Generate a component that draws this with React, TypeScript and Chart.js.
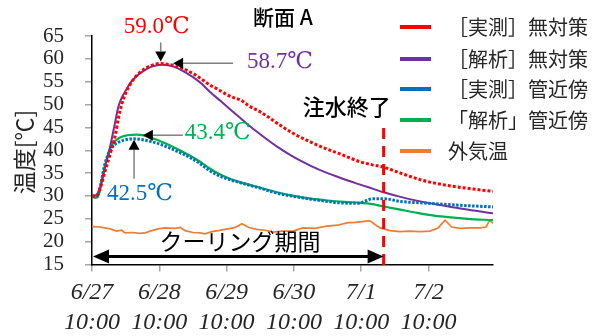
import React, { useEffect, useRef } from "react";
import { Chart, registerables } from "chart.js";

Chart.register(...registerables);

// Time axis: hours elapsed since 6/27 10:00
const TICK_HOURS = [0, 24, 48, 72, 96, 120];
const TICK_DATES = ["6/27", "6/28", "6/29", "6/30", "7/1", "7/2"];
const TICK_TIME = "10:00";
const X_MAX_H = 143;
const WATER_END_H = 104; // 7/1 18:00

const Y_MIN = 15;
const Y_MAX = 65;
const Y_STEP = 5;

const TITLE = "断面 A";
const Y_TITLE = "温度[℃]";
const WATER_END_LABEL = "注水終了";
const COOLING_LABEL = "クーリング期間";

const SERIES_LABELS = [
  "［実測］無対策",
  "［解析］無対策",
  "［実測］管近傍",
  "「解析」管近傍",
  "外気温",
];
const SERIES_COLORS = ["#FF0000", "#7030A0", "#0070C0", "#00B050", "#ED7D31"];

// Peak temperatures (value, hour)
const PEAK_MEAS_NO = 59.0;
const PEAK_MEAS_NO_H = 24.5;
const PEAK_SIM_NO = 58.7;
const PEAK_SIM_NO_H = 25;
const PEAK_MEAS_PIPE = 42.5;
const PEAK_MEAS_PIPE_H = 15;
const PEAK_SIM_PIPE = 43.4;
const PEAK_SIM_PIPE_H = 16;

// [実測] 無対策
const MEAS_NO_H = [0, 1.5, 2.85, 4.6, 6.4, 8.2, 9.4, 10.6, 11.8, 13.5, 15.3, 17, 19, 21, 23, PEAK_MEAS_NO_H, 26, 28, 30, 33, 36, 39, 42, 45, 48, 51, 53, 56, 60, 64, 67, 72, 78, 84, 88, 92, 96, 100, 104, 110, 118, 124, 130, 136, 143];
const MEAS_NO_V = [30.0, 30.0, 31.5, 35.3, 39.0, 43.0, 47.0, 50.0, 52.2, 54.3, 55.9, 57.0, 57.9, 58.5, 58.9, PEAK_MEAS_NO, 58.9, 58.7, 58.4, 57.7, 56.8, 55.6, 54.3, 53.3, 52.2, 51.4, 51.0, 49.7, 48.4, 46.8, 45.5, 43.6, 41.8, 40.2, 39.3, 38.3, 37.4, 36.8, 36.3, 35.0, 33.4, 32.6, 32.0, 31.5, 31.0];

// [解析] 無対策
const SIM_NO_H = [0, 1.5, 2.85, 4.6, 6.4, 8.2, 9.4, 10.6, 12, 14, 16.5, 19, 21.3, PEAK_SIM_NO_H, 27, 29, 32, 36, 39, 42, 46, 49, 53, 56, 60, 66, 72, 78, 84, 88, 94, 100, 104, 110, 118, 124, 130, 136, 143];
const SIM_NO_V = [30.0, 30.2, 31.8, 36.2, 40.6, 46.0, 49.5, 51.5, 53.0, 55.0, 56.5, 57.6, 58.3, PEAK_SIM_NO, 58.6, 58.3, 57.5, 56.0, 54.6, 52.8, 50.7, 49.1, 47.0, 45.4, 43.5, 40.8, 38.5, 36.6, 35.0, 34.1, 32.8, 31.6, 30.8, 29.8, 28.7, 28.0, 27.4, 26.8, 26.2];

// [実測] 管近傍
const MEAS_PIPE_H = [0, 1, 2, 2.9, 4.6, 6.4, 8.2, 10, 12, PEAK_MEAS_PIPE_H, 18, 21, 24, 28, 32, 35, 38, 42, 45, 49, 54, 60, 66, 72, 78, 84, 88, 95, 98, 100, 104, 110, 120, 130, 143];
const MEAS_PIPE_V = [30.0, 30.0, 30.1, 32.0, 37.0, 40.0, 41.3, 41.9, 42.3, PEAK_MEAS_PIPE, 42.3, 41.9, 41.4, 40.4, 39.3, 38.4, 37.3, 35.5, 34.5, 33.6, 32.7, 31.7, 30.6, 29.9, 29.3, 28.8, 28.5, 28.4, 29.0, 29.4, 29.4, 28.8, 28.4, 28.0, 27.6];

// [解析] 管近傍
const SIM_PIPE_H = [0, 1, 2, 2.9, 4.6, 6.4, 8.2, 10, 12, 14, PEAK_SIM_PIPE_H, 18, 21, 24, 28, 32, 35, 38, 42, 45, 49, 54, 60, 66, 72, 78, 84, 90, 96, 100, 104, 110, 116, 122, 128, 134, 143];
const SIM_PIPE_V = [30.0, 29.6, 29.7, 31.5, 36.5, 40.3, 42.0, 42.8, 43.2, 43.35, PEAK_SIM_PIPE, 43.3, 42.7, 42.1, 41.0, 39.8, 38.8, 37.7, 36.0, 34.9, 33.8, 32.8, 31.8, 30.8, 30.0, 29.4, 29.0, 28.7, 28.5, 28.2, 27.7, 27.0, 26.3, 25.7, 25.3, 25.0, 24.7];

// 外気温
const AIR_H = [0, 2.9, 4.6, 6.5, 8.8, 10.5, 11.8, 14.6, 17, 18.9, 20.7, 23.6, 26, 29.6, 31.5, 33.2, 36, 38.5, 40.3, 42.8, 45, 47.4, 50.4, 52, 53.4, 56, 58.7, 61.7, 64.7, 67.7, 71.7, 75.2, 79.5, 83.7, 87.7, 90.8, 93.8, 96.3, 99, 100.8, 102.7, 106.3, 109.8, 113.4, 117, 120.5, 123.4, 125.9, 128.3, 131.2, 134.8, 138.4, 140.5, 141.9, 143];
const AIR_V = [23.3, 23.2, 23.0, 22.8, 22.3, 22.5, 21.9, 22.0, 21.8, 21.9, 22.3, 22.8, 23.0, 22.9, 23.1, 22.4, 22.0, 21.9, 21.7, 22.2, 22.4, 22.7, 23.0, 23.4, 23.9, 23.1, 22.7, 22.5, 22.1, 22.3, 22.3, 23.0, 22.9, 23.4, 23.6, 24.1, 24.2, 24.4, 24.6, 23.8, 23.0, 22.4, 22.2, 22.3, 22.2, 22.3, 23.0, 24.7, 23.2, 22.9, 23.0, 23.0, 23.2, 24.7, 24.0];

const pts = (hs: number[], vs: number[]) => hs.map((h, i) => ({ x: h, y: vs[i] }));

const CJK = "'Noto Sans CJK JP', 'Noto Sans', sans-serif";
const SERIF = "'Liberation Serif', 'DejaVu Serif', serif";

function arrow(
  ctx: CanvasRenderingContext2D,
  x1: number, y1: number, x2: number, y2: number,
  lineColor: string, lineWidth: number, headLen: number, headHalf: number
) {
  const a = Math.atan2(y2 - y1, x2 - x1);
  const bx = x2 - headLen * Math.cos(a);
  const by = y2 - headLen * Math.sin(a);
  ctx.save();
  ctx.strokeStyle = lineColor;
  ctx.lineWidth = lineWidth;
  ctx.beginPath();
  ctx.moveTo(x1, y1);
  ctx.lineTo(bx, by);
  ctx.stroke();
  ctx.fillStyle = "#000";
  ctx.beginPath();
  ctx.moveTo(x2, y2);
  ctx.lineTo(bx + headHalf * Math.sin(a), by - headHalf * Math.cos(a));
  ctx.lineTo(bx - headHalf * Math.sin(a), by + headHalf * Math.cos(a));
  ctx.closePath();
  ctx.fill();
  ctx.restore();
}

const overlayPlugin = {
  id: "overlay",
  afterDatasetsDraw(chart: any) {
    const ctx: CanvasRenderingContext2D = chart.ctx;
    const xs = chart.scales.x;
    const ys = chart.scales.y;
    const area = chart.chartArea;

    // Title
    ctx.save();
    ctx.fillStyle = "#000";
    ctx.font = `500 21px ${CJK}`;
    ctx.textAlign = "center";
    ctx.textBaseline = "middle";
    ctx.fillText(TITLE, 283, 17);

    // Y axis title
    ctx.save();
    ctx.translate(24, 152);
    ctx.rotate(-Math.PI / 2);
    ctx.font = `23px ${CJK}`;
    ctx.fillStyle = "#262626";
    ctx.fillText(Y_TITLE, 0, 0);
    ctx.restore();

    // End of water injection
    const wx = xs.getPixelForValue(WATER_END_H);
    ctx.strokeStyle = "#FF0000";
    ctx.lineWidth = 3;
    ctx.setLineDash([11, 7]);
    ctx.beginPath();
    ctx.moveTo(wx, 128);
    ctx.lineTo(wx, area.bottom + 3);
    ctx.stroke();
    ctx.setLineDash([]);
    ctx.fillStyle = "#000";
    ctx.font = `500 22px ${CJK}`;
    ctx.fillText(WATER_END_LABEL, wx - 37, 107);

    // Cooling period
    const x0 = xs.getPixelForValue(0);
    const ay = area.bottom - 8;
    ctx.beginPath();
    ctx.lineWidth = 3;
    ctx.strokeStyle = "#000";
    ctx.moveTo(x0 + 10, ay);
    ctx.lineTo(wx - 10, ay);
    ctx.stroke();
    arrow(ctx, x0 + 30, ay, x0 + 1, ay, "#000", 3, 16, 7);
    arrow(ctx, wx - 30, ay, wx, ay, "#000", 3, 16, 7);
    ctx.font = `23px ${CJK}`;
    ctx.fillStyle = "#000";
    ctx.fillText(COOLING_LABEL, 240, 241);

    // Peak annotations
    const grey = "#7F7F7F";
    ctx.font = `23px ${SERIF}`;

    let px = xs.getPixelForValue(PEAK_MEAS_NO_H);
    let py = ys.getPixelForValue(PEAK_MEAS_NO);
    arrow(ctx, px, py - 21, px, py - 2, grey, 1.5, 10, 5.5);
    ctx.fillStyle = SERIES_COLORS[0];
    ctx.textAlign = "center";
    ctx.fillText(PEAK_MEAS_NO.toFixed(1) + "℃", px - 4, py - 36);

    px = xs.getPixelForValue(PEAK_SIM_NO_H);
    py = ys.getPixelForValue(PEAK_SIM_NO);
    arrow(ctx, px + 71, py - 1.5, px + 11, py - 1.5, grey, 1.5, 10, 5.5);
    ctx.fillStyle = SERIES_COLORS[1];
    ctx.textAlign = "left";
    ctx.fillText(PEAK_SIM_NO.toFixed(1) + "℃", px + 85, py - 3);

    px = xs.getPixelForValue(PEAK_SIM_PIPE_H);
    py = ys.getPixelForValue(PEAK_SIM_PIPE);
    arrow(ctx, px + 46, py + 0.5, px + 6, py + 0.5, grey, 1.5, 10, 5.5);
    ctx.fillStyle = SERIES_COLORS[3];
    ctx.fillText(PEAK_SIM_PIPE.toFixed(1) + "℃", px + 48, py - 1.5);

    px = xs.getPixelForValue(PEAK_MEAS_PIPE_H);
    py = ys.getPixelForValue(PEAK_MEAS_PIPE);
    arrow(ctx, px, py + 40, px, py + 1, grey, 1.5, 10, 5.5);
    ctx.fillStyle = SERIES_COLORS[2];
    ctx.fillText(PEAK_MEAS_PIPE.toFixed(1) + "℃", px - 27, py + 55);

    // Legend
    ctx.textAlign = "left";
    ctx.font = `20px ${CJK}`;
    const rowY = [27, 59, 89, 120, 151];
    SERIES_LABELS.forEach((label, i) => {
      ctx.strokeStyle = SERIES_COLORS[i];
      ctx.lineWidth = 4;
      ctx.beginPath();
      ctx.moveTo(400, rowY[i]);
      ctx.lineTo(431, rowY[i]);
      ctx.stroke();
      ctx.fillStyle = "#262626";
      ctx.fillText(label, 448, rowY[i]);
    });
    ctx.restore();
  },
};

export default function App() {
  const canvasRef = useRef<HTMLCanvasElement>(null);

  useEffect(() => {
    document.body.style.margin = "0";
    const canvas = canvasRef.current;
    if (!canvas) return;

    const chart = new Chart(canvas, {
      type: "line",
      data: {
        datasets: [
          {
            label: SERIES_LABELS[0],
            data: pts(MEAS_NO_H, MEAS_NO_V),
            borderColor: SERIES_COLORS[0],
            borderWidth: 3,
            borderDash: [3, 2],
            pointRadius: 0,
            cubicInterpolationMode: "monotone",
            order: 0,
          },
          {
            label: SERIES_LABELS[1],
            data: pts(SIM_NO_H, SIM_NO_V),
            borderColor: SERIES_COLORS[1],
            borderWidth: 2,
            pointRadius: 0,
            cubicInterpolationMode: "monotone",
            order: 2,
          },
          {
            label: SERIES_LABELS[2],
            data: pts(MEAS_PIPE_H, MEAS_PIPE_V),
            borderColor: SERIES_COLORS[2],
            borderWidth: 3,
            borderDash: [2.5, 1.5],
            pointRadius: 0,
            cubicInterpolationMode: "monotone",
            order: 1,
          },
          {
            label: SERIES_LABELS[3],
            data: pts(SIM_PIPE_H, SIM_PIPE_V),
            borderColor: SERIES_COLORS[3],
            borderWidth: 2.2,
            pointRadius: 0,
            cubicInterpolationMode: "monotone",
            order: 3,
          },
          {
            label: SERIES_LABELS[4],
            data: pts(AIR_H, AIR_V),
            borderColor: SERIES_COLORS[4],
            borderWidth: 1.7,
            pointRadius: 0,
            tension: 0,
            order: 4,
          },
        ],
      },
      options: {
        responsive: false,
        animation: false,
        devicePixelRatio: 1,
        layout: { padding: { top: 36, right: 107, left: 0, bottom: 0 } },
        plugins: {
          legend: { display: false },
          title: { display: false },
          tooltip: { enabled: false },
        },
        scales: {
          x: {
            type: "linear",
            min: 0,
            max: X_MAX_H,
            afterFit: (s: any) => {
              s.height = 71.5;
            },
            afterBuildTicks: (s: any) => {
              s.ticks = TICK_HOURS.map((v) => ({ value: v }));
            },
            ticks: {
              autoSkip: false,
              maxRotation: 0,
              padding: 6.5,
              color: "#262626",
              font: { family: SERIF, size: 24, style: "italic", lineHeight: 1.25 },
              callback: (v: any) => {
                const i = TICK_HOURS.indexOf(Number(v));
                return i >= 0 ? [TICK_DATES[i], TICK_TIME] : "";
              },
            },
            grid: { drawOnChartArea: false, drawTicks: true, tickLength: 7, color: "#A6A6A6", lineWidth: 1.5 },
            border: { display: true, color: "#000", width: 1.5 },
          },
          y: {
            min: Y_MIN,
            max: Y_MAX,
            afterFit: (s: any) => {
              s.width = 92;
            },
            ticks: {
              stepSize: Y_STEP,
              autoSkip: false,
              padding: 21,
              color: "#262626",
              font: { family: SERIF, size: 21 },
            },
            grid: { drawOnChartArea: false, drawTicks: true, tickLength: 7, color: "#A6A6A6", lineWidth: 1.5 },
            border: { display: true, color: "#000", width: 1.5 },
          },
        },
      },
      plugins: [overlayPlugin],
    });

    return () => chart.destroy();
  }, []);

  return (
    <div style={{ width: 600, height: 336, background: "#fff" }}>
      <canvas ref={canvasRef} width={600} height={336} />
    </div>
  );
}
